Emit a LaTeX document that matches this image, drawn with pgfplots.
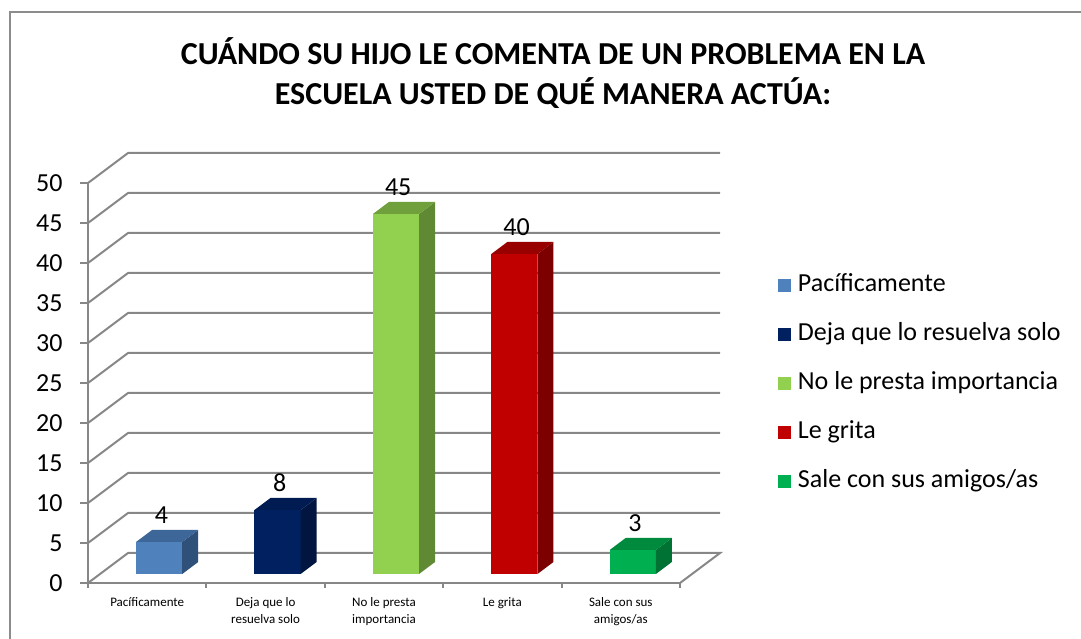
\documentclass[border=0pt]{standalone}
\usepackage{fontspec}
\setmainfont{Carlito}
\usepackage{pgfplots}
\pgfplotsset{compat=1.18}
\definecolor{gridc}{HTML}{878787}
\definecolor{framec}{HTML}{8C8C8C}
\definecolor{pacF}{HTML}{4F81BD}\definecolor{pacT}{HTML}{3E6799}\definecolor{pacS}{HTML}{2F5079}
\definecolor{dejF}{HTML}{002060}\definecolor{dejT}{HTML}{001B52}\definecolor{dejS}{HTML}{001641}
\definecolor{noF}{HTML}{92D050}\definecolor{noT}{HTML}{70A03C}\definecolor{noS}{HTML}{5F8A33}
\definecolor{leF}{HTML}{C00000}\definecolor{leT}{HTML}{980000}\definecolor{leS}{HTML}{7C0000}
\definecolor{saF}{HTML}{00B050}\definecolor{saT}{HTML}{008A3E}\definecolor{saS}{HTML}{007334}
% #1 category index, #2 value, #3 front, #4 top, #5 side
\newcommand{\barcube}[5]{%
 \pgfmathsetmacro\xa{#1+0.406}%
 \pgfmathsetmacro\xb{#1+0.796}%
 \pgfmathsetmacro\xc{#1+0.931}%
 \pgfmathsetmacro\xd{#1+0.541}%
 \pgfmathsetmacro\xm{#1+0.62}%
 \pgfmathsetmacro\yt{#2+1.125}%
 \pgfmathsetmacro\ytt{#2+2.625}%
 \addplot[fill=#3,draw=none,forget plot] coordinates {(\xa,1.125) (\xb,1.125) (\xb,\yt) (\xa,\yt)} -- cycle;
 \addplot[fill=#5,draw=none,forget plot] coordinates {(\xb,1.125) (\xc,2.625) (\xc,\ytt) (\xb,\yt)} -- cycle;
 \addplot[fill=#4,draw=none,forget plot] coordinates {(\xa,\yt) (\xb,\yt) (\xc,\ytt) (\xd,\ytt)} -- cycle;
 \addplot[only marks, mark=none, forget plot, point meta=explicit symbolic, nodes near coords,
   every node near coord/.append style={font=\fontsize{26}{26}\selectfont, text=black, anchor=south, yshift=3pt}]
   coordinates {(\xm,\ytt) [#2]};
}
\begin{document}
\begin{tikzpicture}
\useasboundingbox (0pt,0pt) rectangle (1081pt,639pt);
\draw[framec, line width=2pt] (10pt,-20pt) -- (10pt,627pt) -- (1100pt,627pt);
\node[align=center, font=\fontsize{32}{40}\selectfont\bfseries] at (553pt,566pt)
  {CUÁNDO SU HIJO LE COMENTA DE UN PROBLEMA EN LA\\ESCUELA USTED DE QUÉ MANERA ACTÚA:};
\begin{axis}[
  at={(88pt,56pt)}, anchor=south west,
  scale only axis, width=592pt, height=400pt,
  xmin=0, xmax=5, ymin=0, ymax=50, clip=false,
  axis x line*=bottom, axis y line*=left,
  axis line style={gridc, line width=2pt, -},
  ytick={0,5,...,50},
  xtick={0.5,1.5,2.5,3.5,4.5},
  xticklabels={Pacíficamente,{Deja que lo\\resuelva solo},{No le presta\\importancia},Le grita,{Sale con sus\\amigos/as}},
  minor xtick={0,1,2,3,4,5},
  tick align=outside,
  major tick length=8pt, minor tick length=5pt,
  tick style={gridc, line width=2pt},
  major x tick style={draw=none},
  /pgf/number format/assume math mode=true,
  yticklabel style={font=\fontsize{26}{26}\selectfont, xshift=-14pt},
  xticklabel style={font=\fontsize{13}{17}\selectfont, align=center, yshift=-3pt},
  legend cell align=left,
  legend image code/.code={\fill[#1,draw=none] (0pt,-6.5pt) rectangle (13pt,6.5pt);},
  legend style={draw=none, fill=none, at={(rel axis cs:1.160,0.499)}, anchor=west,
    font=\fontsize{26}{26}\selectfont, row sep=25pt, column sep=7pt,
    nodes={inner sep=0pt, text height=18pt, text depth=6pt}},
]
% back wall, left wall and floor
\addplot[gridc, line width=2pt, forget plot] coordinates {(0,0) (0.338,3.75) (5.338,3.75) (5,0)};
\addplot[gridc, line width=2pt, forget plot] coordinates {(0,5) (0.338,8.75) (5.338,8.75)};
\addplot[gridc, line width=2pt, forget plot] coordinates {(0,10) (0.338,13.75) (5.338,13.75)};
\addplot[gridc, line width=2pt, forget plot] coordinates {(0,15) (0.338,18.75) (5.338,18.75)};
\addplot[gridc, line width=2pt, forget plot] coordinates {(0,20) (0.338,23.75) (5.338,23.75)};
\addplot[gridc, line width=2pt, forget plot] coordinates {(0,25) (0.338,28.75) (5.338,28.75)};
\addplot[gridc, line width=2pt, forget plot] coordinates {(0,30) (0.338,33.75) (5.338,33.75)};
\addplot[gridc, line width=2pt, forget plot] coordinates {(0,35) (0.338,38.75) (5.338,38.75)};
\addplot[gridc, line width=2pt, forget plot] coordinates {(0,40) (0.338,43.75) (5.338,43.75)};
\addplot[gridc, line width=2pt, forget plot] coordinates {(0,45) (0.338,48.75) (5.338,48.75)};
\addplot[gridc, line width=2pt, forget plot] coordinates {(0,50) (0.338,53.75) (5.338,53.75)};
% bars
\barcube{0}{4}{pacF}{pacT}{pacS}
\barcube{1}{8}{dejF}{dejT}{dejS}
\barcube{2}{45}{noF}{noT}{noS}
\barcube{3}{40}{leF}{leT}{leS}
\barcube{4}{3}{saF}{saT}{saS}
\addlegendimage{fill=pacF}\addlegendentry{Pacíficamente}
\addlegendimage{fill=dejF}\addlegendentry{Deja que lo resuelva solo}
\addlegendimage{fill=noF}\addlegendentry{No le presta importancia}
\addlegendimage{fill=leF}\addlegendentry{Le grita}
\addlegendimage{fill=saF}\addlegendentry{Sale con sus amigos/as}
\end{axis}
\end{tikzpicture}
\end{document}
